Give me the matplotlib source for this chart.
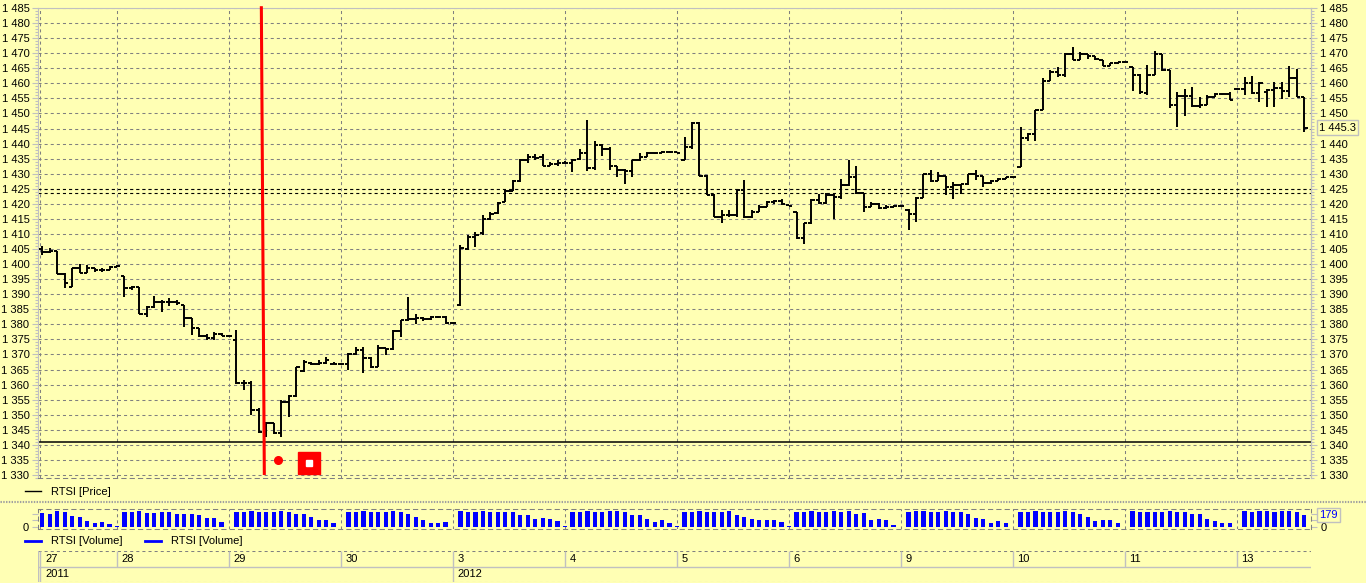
import matplotlib
matplotlib.use("Agg")
import matplotlib.pyplot as plt
import matplotlib.transforms as mtransforms
from matplotlib.lines import Line2D
from matplotlib.ticker import MultipleLocator, FuncFormatter, FixedLocator, NullFormatter
import numpy as np

plt.rcParams['font.family'] = ['Liberation Sans', 'DejaVu Sans']
plt.rcParams['lines.scale_dashes'] = False

# ---------------- data ----------------
day_labels = ['27', '28', '29', '30', '3', '4', '5', '6', '9', '10', '11', '13']
day_start_slots = [-0.25, 10, 25, 40, 55, 70, 85, 100, 115, 130, 145, 160]
year_labels = ['2011', '2012']
year_start_slots = [-0.25, 55]
price_ticks = list(range(1330, 1486, 5))

bar_open = [
    1405.0, 1404.0, 1404.4, 1396.8, 1392.5, 1398.6, 1397.2, 1398.6, 1397.9, 1398.2, 1399.1,
    1396.0, 1391.9, 1392.3, 1383.6, 1385.6, 1387.5, 1387.5, 1387.5, 1386.4, 1382.0, 1378.7, 1376.1, 1375.4, 1376.8, 1376.2,
    1374.8, 1360.4, 1360.6, 1351.6, 1344.4, 1347.4, 1343.8, 1354.3, 1356.2, 1364.5, 1367.3, 1366.8, 1367.3, 1367.0, 1366.8,
    1366.8, 1370.2, 1371.5, 1368.7, 1365.7, 1372.0, 1371.7, 1377.9, 1381.4, 1381.7, 1382.0, 1381.7, 1382.3, 1382.5, 1380.3,
    1386.4, 1405.1, 1409.0, 1410.3, 1415.1, 1416.9, 1420.5, 1424.4, 1427.5, 1434.4, 1435.5, 1435.5, 1432.7, 1433.1, 1433.5,
    1433.5, 1435.0, 1436.8, 1432.0, 1439.4, 1438.3, 1432.4, 1431.1, 1430.9, 1434.4, 1435.5, 1436.8, 1436.8, 1437.2, 1437.2,
    1434.6, 1438.8, 1446.8, 1429.4, 1422.8, 1415.6, 1416.2, 1416.2, 1424.7, 1415.6, 1417.3, 1419.1, 1420.6, 1420.9, 1419.5,
    1417.3, 1408.8, 1413.6, 1421.4, 1420.2, 1422.8, 1422.2, 1426.1, 1428.9, 1423.6, 1419.1, 1420.0, 1418.6, 1419.1, 1419.4,
    1418.0, 1416.5, 1422.0, 1429.8, 1427.5, 1429.1, 1425.6, 1426.1, 1426.5, 1429.8, 1429.1, 1426.9, 1427.6, 1428.3, 1428.9,
    1432.2, 1441.9, 1443.3, 1451.0, 1460.9, 1463.7, 1462.6, 1469.8, 1467.6, 1469.8, 1469.2, 1467.6, 1465.9, 1466.8, 1467.0,
    1465.4, 1462.8, 1456.7, 1462.8, 1469.8, 1464.3, 1452.8, 1455.9, 1455.9, 1452.6, 1452.9, 1455.4, 1456.3, 1456.3, 1458.2,
    1458.2, 1460.0, 1456.8, 1457.0, 1457.8, 1458.5, 1457.4, 1461.7, 1455.4,
]
bar_high = [
    1406.0, 1405.2, 1404.4, 1397.1, 1398.6, 1400.0, 1399.7, 1398.8, 1398.6, 1399.4, 1399.7,
    1396.0, 1392.7, 1392.5, 1386.1, 1389.4, 1388.1, 1388.6, 1388.1, 1386.4, 1382.0, 1378.7, 1376.8, 1377.6, 1377.0, 1376.4,
    1378.1, 1361.5, 1361.3, 1352.1, 1347.7, 1347.4, 1354.9, 1356.5, 1366.0, 1368.2, 1367.6, 1368.2, 1369.0, 1367.6, 1366.8,
    1370.4, 1372.6, 1372.4, 1369.3, 1373.1, 1372.0, 1378.1, 1381.4, 1389.2, 1383.3, 1382.3, 1382.8, 1382.8, 1382.8, 1380.5,
    1406.3, 1409.5, 1410.6, 1416.2, 1417.2, 1420.6, 1425.0, 1427.8, 1434.9, 1436.6, 1436.6, 1436.4, 1433.8, 1434.4, 1434.1,
    1434.9, 1438.3, 1447.9, 1441.0, 1439.9, 1439.0, 1432.7, 1431.6, 1434.4, 1436.8, 1437.2, 1437.0, 1437.5, 1437.4, 1437.2,
    1442.1, 1447.1, 1447.1, 1429.6, 1423.1, 1418.0, 1418.0, 1424.9, 1427.8, 1418.0, 1419.7, 1420.9, 1421.4, 1421.7, 1419.5,
    1417.3, 1413.6, 1421.7, 1423.3, 1423.6, 1423.1, 1428.3, 1434.6, 1432.4, 1423.6, 1420.6, 1420.2, 1419.5, 1419.5, 1419.7,
    1418.3, 1422.3, 1430.0, 1431.1, 1430.6, 1429.1, 1427.2, 1426.7, 1430.0, 1431.1, 1429.1, 1428.0, 1428.7, 1428.9, 1428.9,
    1445.5, 1443.5, 1451.2, 1461.8, 1464.3, 1465.4, 1470.0, 1472.2, 1470.3, 1469.8, 1469.2, 1467.6, 1466.8, 1467.2, 1467.2,
    1465.5, 1463.1, 1466.1, 1470.8, 1469.8, 1464.3, 1457.0, 1458.2, 1458.7, 1455.4, 1456.0, 1456.8, 1456.5, 1457.0, 1458.3,
    1462.0, 1462.5, 1460.3, 1458.2, 1460.3, 1460.3, 1465.9, 1464.8, 1455.4,
]
bar_low = [
    1403.0, 1403.8, 1396.7, 1391.9, 1392.3, 1396.9, 1397.1, 1397.5, 1397.5, 1398.2, 1399.1,
    1389.2, 1391.4, 1383.3, 1382.3, 1385.3, 1384.2, 1386.1, 1386.4, 1379.2, 1376.5, 1375.7, 1374.8, 1374.8, 1376.1, 1376.0,
    1360.2, 1358.2, 1349.9, 1343.8, 1342.7, 1343.6, 1342.5, 1349.4, 1356.0, 1364.3, 1366.5, 1366.5, 1366.8, 1366.8, 1366.6,
    1364.8, 1369.8, 1363.7, 1365.4, 1365.7, 1369.8, 1371.5, 1375.7, 1381.2, 1380.1, 1381.2, 1381.4, 1382.0, 1380.1, 1380.1,
    1386.1, 1404.6, 1405.7, 1409.5, 1414.7, 1416.7, 1420.5, 1424.4, 1427.2, 1433.5, 1434.6, 1432.7, 1432.7, 1432.7, 1433.3,
    1430.5, 1434.6, 1430.9, 1431.1, 1436.0, 1431.3, 1428.9, 1426.7, 1428.9, 1434.1, 1435.5, 1436.7, 1436.8, 1436.8, 1436.8,
    1434.4, 1438.3, 1429.4, 1422.8, 1415.6, 1413.6, 1415.6, 1415.6, 1415.4, 1415.4, 1417.3, 1419.1, 1420.0, 1419.5, 1419.3,
    1408.4, 1406.6, 1413.4, 1420.0, 1420.0, 1415.1, 1421.7, 1425.8, 1423.3, 1417.3, 1419.1, 1418.4, 1418.4, 1418.9, 1419.3,
    1411.2, 1414.0, 1422.0, 1427.2, 1427.5, 1422.8, 1421.7, 1423.4, 1426.1, 1427.8, 1425.6, 1426.7, 1427.6, 1428.3, 1428.7,
    1432.2, 1441.0, 1441.0, 1451.0, 1460.9, 1462.0, 1462.0, 1467.6, 1467.6, 1468.1, 1467.6, 1465.9, 1465.9, 1466.5, 1467.0,
    1457.6, 1456.5, 1456.2, 1462.8, 1464.2, 1451.7, 1445.4, 1449.3, 1452.3, 1451.7, 1452.8, 1455.4, 1456.2, 1454.6, 1458.1,
    1456.0, 1456.3, 1453.7, 1452.1, 1452.1, 1454.8, 1455.4, 1455.4, 1443.8,
]
bar_close = [
    1404.0, 1404.4, 1396.8, 1393.6, 1398.6, 1397.2, 1398.6, 1397.9, 1398.2, 1399.1, 1399.4,
    1391.9, 1392.3, 1383.6, 1385.6, 1387.5, 1387.5, 1387.5, 1387.0, 1382.0, 1378.7, 1376.1, 1375.4, 1376.8, 1376.2, 1376.2,
    1360.4, 1360.6, 1351.6, 1344.4, 1347.4, 1343.8, 1354.3, 1356.2, 1365.7, 1367.6, 1366.8, 1367.3, 1368.2, 1366.8, 1366.7,
    1370.2, 1371.5, 1368.7, 1365.7, 1372.0, 1371.7, 1377.9, 1381.4, 1381.7, 1382.0, 1381.7, 1382.3, 1382.5, 1380.3, 1380.3,
    1405.3, 1409.0, 1409.5, 1415.1, 1416.7, 1420.2, 1424.4, 1427.5, 1434.4, 1435.5, 1435.2, 1432.7, 1433.1, 1433.5, 1433.6,
    1434.6, 1436.8, 1432.0, 1439.4, 1438.3, 1432.4, 1431.1, 1430.9, 1434.4, 1435.5, 1436.8, 1436.8, 1437.2, 1437.2, 1436.9,
    1438.8, 1446.8, 1429.4, 1422.8, 1415.6, 1416.2, 1416.2, 1424.7, 1415.6, 1417.3, 1419.1, 1420.6, 1420.9, 1419.8, 1419.4,
    1408.8, 1413.6, 1421.4, 1420.2, 1422.8, 1422.2, 1426.1, 1428.9, 1423.6, 1419.1, 1420.0, 1418.6, 1419.1, 1419.4, 1419.4,
    1416.5, 1422.0, 1429.8, 1427.5, 1429.1, 1425.6, 1426.1, 1426.5, 1429.8, 1429.1, 1426.9, 1427.6, 1428.3, 1428.9, 1428.8,
    1441.9, 1443.3, 1451.0, 1460.9, 1463.7, 1462.6, 1469.8, 1467.6, 1469.8, 1469.2, 1468.1, 1465.9, 1466.8, 1467.0, 1467.0,
    1462.8, 1457.0, 1462.8, 1469.8, 1464.3, 1452.8, 1455.9, 1455.9, 1452.6, 1452.9, 1455.4, 1456.3, 1456.3, 1454.6, 1458.2,
    1460.0, 1456.8, 1460.0, 1457.8, 1458.5, 1457.4, 1461.7, 1455.4, 1445.3,
]
volume = [
    212, 194, 242, 218, 164, 145, 96, 67, 82, 44, 12,
    228, 228, 242, 213, 213, 228, 228, 194, 194, 189, 179, 131, 131, 82, 10,
    228, 228, 242, 228, 228, 228, 242, 228, 189, 189, 155, 107, 107, 68, 10,
    228, 228, 242, 228, 228, 228, 242, 218, 194, 155, 107, 68, 58, 82, 10,
    242, 228, 228, 242, 228, 228, 228, 228, 179, 179, 121, 131, 121, 92, 19,
    228, 228, 242, 228, 228, 242, 242, 218, 179, 179, 121, 82, 107, 58, 19,
    228, 228, 242, 228, 228, 228, 242, 179, 155, 121, 107, 107, 107, 73, 19,
    228, 228, 242, 228, 228, 242, 228, 242, 189, 204, 107, 116, 107, 34, 10,
    228, 242, 242, 228, 228, 242, 228, 228, 189, 131, 116, 68, 92, 68, 10,
    228, 228, 242, 228, 228, 228, 242, 228, 189, 155, 97, 107, 107, 68, 10,
    242, 228, 228, 228, 228, 242, 228, 228, 189, 194, 121, 92, 68, 58, 10,
    242, 228, 242, 242, 228, 242, 242, 228, 179,
]
last_price = 1445.3
last_volume = 179
support_level = 1341.1
dashed_levels = [1425.0, 1423.7]
red_line_x = [29.33, 29.73]
red_line_y = [1485.6, 1330.0]
red_dot = (31.6, 1335.1)
red_box = (35.7, 1334.1)

# ---------------- layout ----------------
W, H = 1366, 583
BG = '#FFFFB4'
GRID = '#808080'
LGRAY = '#C0C0C0'


def fx(px):
    return px / W


def fy(py):
    return 1 - py / H


fig = plt.figure(figsize=(W / 100, H / 100), dpi=100, facecolor=BG)

XL, XR = 38, 1311
PT, PB = 7.85, 478.0
xlim = (-0.58, 169.9)
ylim = (1329.0, 1485.05)
n = len(bar_close)
x = np.arange(n)

# ---- price panel ----
ax = fig.add_axes([fx(XL), fy(PB), fx(XR) - fx(XL), (PB - PT) / H])
ax.set_facecolor(BG)
ax.set_xlim(*xlim)
ax.set_ylim(*ylim)

for v in price_ticks:
    ax.axhline(v, color=GRID, lw=0.75, dashes=(2.2, 2.2), zorder=1)
for s in day_start_slots:
    ax.axvline(s, color=GRID, lw=0.75, dashes=(2.2, 2.2), zorder=1)
for lv in dashed_levels:
    ax.axhline(lv, color='black', lw=0.8, dashes=(2.2, 2.2), zorder=2)
ax.axhline(support_level, color='black', lw=1.1, zorder=2)

o = np.array(bar_open)
h = np.array(bar_high)
l = np.array(bar_low)
c = np.array(bar_close)
tw = 0.45
ax.vlines(x, l, h, color='black', lw=1.4, zorder=3)
ax.hlines(o, x - tw, x, color='black', lw=1.4, zorder=3)
ax.hlines(c, x, x + tw, color='black', lw=1.4, zorder=3)

ax.plot(red_line_x, red_line_y, color='#FF0000', lw=2.2, solid_capstyle='butt',
        clip_on=False, zorder=5)
ax.plot([red_dot[0]], [red_dot[1]], 'o', color='#FF0000', ms=5.5, zorder=5)
ax.plot([red_box[0]], [red_box[1]], 's', color='#FF0000', mec='#FF0000', ms=15.5, zorder=5)
ax.plot([red_box[0]], [red_box[1]], 's', color='white', mec='white', ms=4.5, zorder=6)

price_fmt = FuncFormatter(lambda v, p: f"{int(round(v)):,}".replace(",", " "))
minor_ticks = list(range(1329, 1486))
ax.yaxis.set_major_locator(FixedLocator(price_ticks))
ax.yaxis.set_minor_locator(FixedLocator(minor_ticks))
ax.yaxis.set_major_formatter(price_fmt)
ax.tick_params(axis='y', which='major', length=4, width=0.8, color=LGRAY, pad=2.2,
               labelsize=8, left=True, right=False, labelleft=True, labelright=False)
ax.tick_params(axis='y', which='minor', length=2.5, width=0.8, color=LGRAY,
               left=True, right=False)
ax.tick_params(axis='x', bottom=False, labelbottom=False)
for side in ['top', 'left', 'right']:
    ax.spines[side].set_color(LGRAY)
    ax.spines[side].set_linewidth(0.8)
ax.spines['bottom'].set_color(GRID)
ax.spines['bottom'].set_linewidth(0.75)
ax.spines['bottom'].set_linestyle((0, (3, 3)))

# right-hand price scale (the label under the last-price box is hidden by that box)
hidden_right = round(last_price / 5) * 5
axr = ax.twinx()
axr.set_ylim(*ylim)
axr.yaxis.set_major_locator(FixedLocator([t for t in price_ticks if t != hidden_right]))
axr.yaxis.set_minor_locator(FixedLocator(minor_ticks))
axr.yaxis.set_major_formatter(price_fmt)
axr.tick_params(axis='y', which='major', length=4, width=0.8, color=LGRAY, pad=2.2,
                labelsize=8)
axr.tick_params(axis='y', which='minor', length=2.5, width=0.8, color=LGRAY)
for side in ['top', 'left', 'bottom']:
    axr.spines[side].set_visible(False)
axr.spines['right'].set_color(LGRAY)
axr.spines['right'].set_linewidth(0.8)

axr.text(1.0 + 8 / (XR - XL), last_price, "1 445.3", fontsize=8, va='center', ha='left',
         transform=mtransforms.blended_transform_factory(axr.transAxes, axr.transData),
         bbox=dict(boxstyle='square,pad=0.2', fc=BG, ec=LGRAY, lw=1.0), zorder=10,
         clip_on=False)

# price legend
fig.legend(handles=[Line2D([], [], color='black', lw=1.0)], labels=['RTSI [Price]'],
           loc='center left', bbox_to_anchor=(fx(25), fy(492)), frameon=False,
           fontsize=8, handlelength=1.4, handletextpad=0.9, borderpad=0,
           borderaxespad=0)

# separator
fig.add_artist(Line2D([0, 1], [fy(500.8), fy(500.8)], color='#A0A0A0', lw=0.8,
                      dashes=(1, 1), transform=fig.transFigure))
fig.add_artist(Line2D([0, 1], [fy(502.4), fy(502.4)], color='#A0A0A0', lw=0.8,
                      dashes=(1, 1), transform=fig.transFigure))

# ---- volume panel ----
axv = fig.add_axes([fx(XL), fy(529), fx(XR) - fx(XL), 20 / H])
axv.set_facecolor(BG)
axv.set_xlim(*xlim)
axv.set_ylim(-25, 266)
for s in day_start_slots:
    axv.axvline(s, color=GRID, lw=0.75, dashes=(2.2, 2.2), zorder=1)
axv.bar(x, volume, width=0.56, color='#0000FF', zorder=3)
axv.yaxis.set_major_locator(FixedLocator([0]))
axv.yaxis.set_minor_locator(FixedLocator([100, 200]))
axv.yaxis.set_minor_formatter(NullFormatter())
axv.tick_params(axis='y', which='both', length=4, width=0.8, color=LGRAY, pad=3,
                labelsize=8, left=True, right=True, labelleft=True, labelright=True)
axv.tick_params(axis='x', bottom=False, labelbottom=False)
for side in axv.spines:
    axv.spines[side].set_color(GRID)
    axv.spines[side].set_linewidth(0.75)
    axv.spines[side].set_linestyle((0, (3, 3)))
axv.text(1.0 + 8 / (XR - XL), last_volume, str(last_volume), fontsize=8, va='center',
         ha='left', color='#0000FF',
         transform=mtransforms.blended_transform_factory(axv.transAxes, axv.transData),
         bbox=dict(boxstyle='square,pad=0.2', fc=BG, ec=LGRAY, lw=1.0), zorder=10,
         clip_on=False)

fig.legend(handles=[Line2D([], [], color='#0000FF', lw=2.0),
                    Line2D([], [], color='#0000FF', lw=2.0)],
           labels=['RTSI [Volume]', 'RTSI [Volume]'], ncol=2,
           loc='center left', bbox_to_anchor=(fx(25), fy(541.5)), frameon=False,
           fontsize=8, handlelength=1.4, handletextpad=0.9, columnspacing=2.1,
           borderpad=0, borderaxespad=0)

# ---- date axis ----
axd = fig.add_axes([fx(XL), fy(581.7), fx(XR) - fx(XL), 31 / H])
axd.set_xlim(*xlim)
axd.set_ylim(0, 31)
axd.axis('off')
axd.axhline(31, color=GRID, lw=0.75, dashes=(2.2, 2.2))
axd.axhline(15, color=LGRAY, lw=1.0)
axd.axhline(0, color=GRID, lw=0.75, dashes=(2.2, 2.2))
axd.axvline(xlim[0], color=LGRAY, lw=1.0)
for s, lab in zip(day_start_slots, day_labels):
    axd.vlines(s, 15, 31, color=LGRAY, lw=1.0)
    axd.text(s + 0.6, 23, lab, fontsize=8, va='center', ha='left')
for s, lab in zip(year_start_slots, year_labels):
    axd.vlines(s, 0, 15, color=LGRAY, lw=1.0)
    axd.text(s + 0.6, 7.5, lab, fontsize=8, va='center', ha='left')

fig.savefig('out.png', dpi=100, facecolor=BG)
